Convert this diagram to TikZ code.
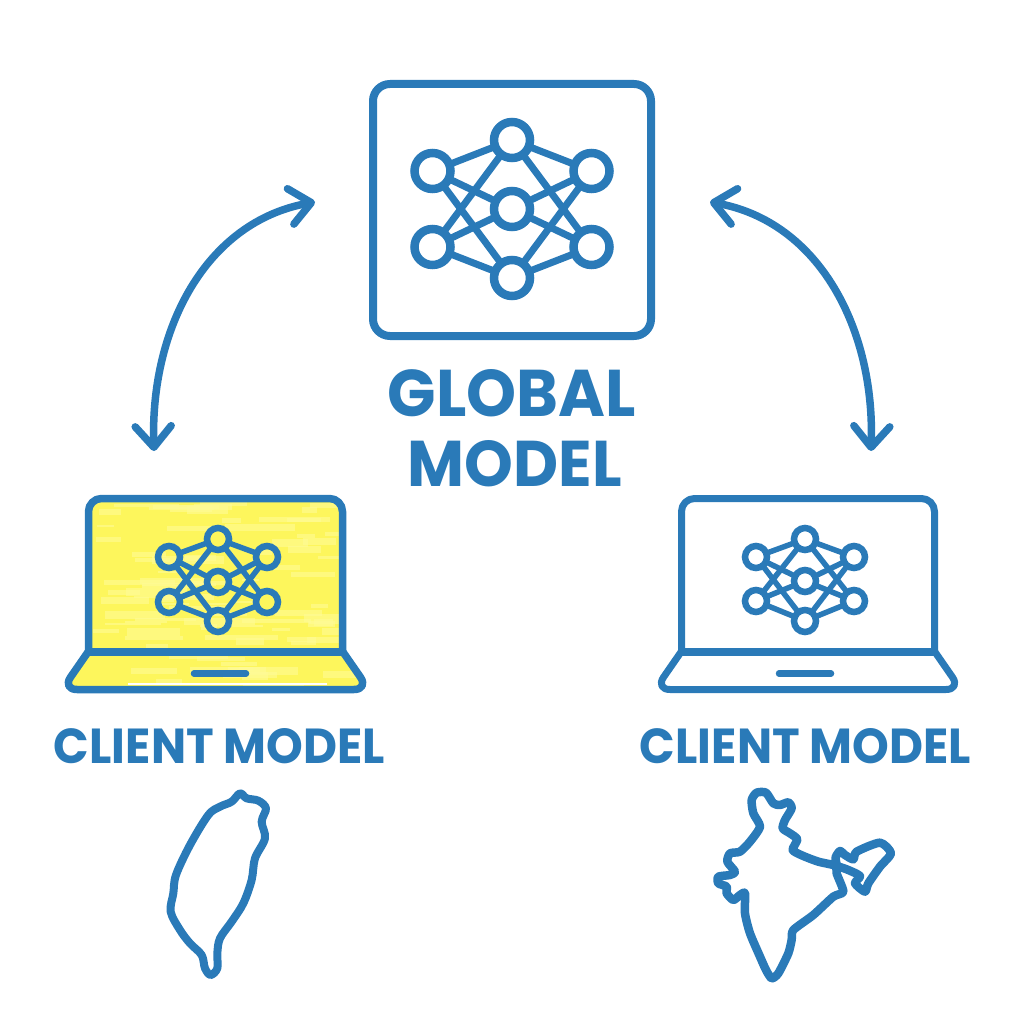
\documentclass[tikz,border=0pt]{standalone}
\usepackage{graphicx}
\usepackage{fontspec}
\usetikzlibrary{arrows.meta}
\newfontfamily\labelfont{Poppins}
\definecolor{modelblue}{HTML}{2A7AB8}
\definecolor{screenyellow}{HTML}{FDF65C}
\definecolor{streakyellow}{HTML}{FFFB96}
\tikzset{
  outline/.style={draw=modelblue,line join=round,line cap=round},
  neuron/.style={circle,draw=modelblue,inner sep=0pt,outer sep=0pt},
  synapse/.style={draw=modelblue},
  exchange/.style={draw=modelblue,line width=7.5pt,line cap=round,line join=round,
    {Straight Barb[length=21pt,width=36pt,line cap=round,round]}-{Straight Barb[length=21pt,width=36pt,line cap=round,round]}},
  caption/.style={inner sep=0pt,outer sep=0pt,text=modelblue},
}
\newcommand{\neuralnet}[9]{%
  \node[neuron,line width=\ringwidth,minimum size=#9] (#1t) at (#2,#3) {};
  \node[neuron,line width=\ringwidth,minimum size=#9] (#1m) at (#2,#4) {};
  \node[neuron,line width=\ringwidth,minimum size=#9] (#1b) at (#2,#5) {};
  \node[neuron,line width=\ringwidth,minimum size=#9] (#1lu) at (#2-#6,#7) {};
  \node[neuron,line width=\ringwidth,minimum size=#9] (#1ll) at (#2-#6,#8) {};
  \node[neuron,line width=\ringwidth,minimum size=#9] (#1ru) at (#2+#6,#7) {};
  \node[neuron,line width=\ringwidth,minimum size=#9] (#1rl) at (#2+#6,#8) {};
  \foreach \a/\b in {lu/t,ru/t,ll/b,rl/b,lu/m,ll/m,ru/m,rl/m,ll/t,rl/t,lu/b,ru/b}
    \draw[synapse,line width=\edgewidth] (#1\a) -- (#1\b);
}
\begin{document}
\begin{tikzpicture}[x=1pt,y=-1pt]
\useasboundingbox (0,0) rectangle (1030,1024);

% Global model
\node[draw=modelblue,line width=8pt,rounded corners=17pt,minimum width=278pt,minimum height=252pt,inner sep=0pt] (globalbox) at (512,210) {};
\def\ringwidth{8.5pt}\def\edgewidth{7pt}
\neuralnet{g}{512}{140}{209}{278}{79.5}{171}{247}{36pt}
\node[caption] (globaltext) at (512,393) {\resizebox{248pt}{47pt}{\labelfont\bfseries GLOBAL}};
\node[caption] (modeltext) at (515,464) {\resizebox{214pt}{46pt}{\labelfont\bfseries MODEL}};

% Left laptop: yellow fills
\begin{scope}
  \clip[rounded corners=15pt] (88,652) -- (88,498) -- (343,498) -- (343,652) -- (369,689.5) -- (62,689.5) -- cycle;
  \fill[screenyellow] (60,490) rectangle (370,695);
  \pgfmathsetseed{4242}
  \foreach \i in {1,...,90}{
    \pgfmathsetmacro{\sx}{85+rnd*240}
    \pgfmathsetmacro{\sy}{500+rnd*185}
    \pgfmathsetmacro{\sw}{15+rnd*60}
    \pgfmathsetmacro{\sh}{2+rnd*6}
    \fill[streakyellow,opacity=.6] (\sx,\sy) rectangle (\sx+\sw,\sy+\sh);
  }
\end{scope}
\fill[white] (128,682.5) rectangle (327,685);
\draw[outline,line width=7.5pt,rounded corners=13pt] (88.5,652) -- (88.5,498.5) -- (342.5,498.5) -- (342.5,652);
\draw[outline,line width=7.5pt] (88.5,652) -- (342.5,652);
\draw[outline,line width=7.5pt,rounded corners=15pt] (88,652) -- (62,689.5) -- (369,689.5) -- (343,652);
\draw[outline,line width=6.5pt] (194,673.5) -- (246,673.5);
\def\ringwidth{6.5pt}\def\edgewidth{5.5pt}
\neuralnet{a}{218}{539}{582}{621}{49}{557}{602}{22pt}

% Right laptop
\draw[outline,line width=7pt,rounded corners=13pt] (681.5,652) -- (681.5,498.5) -- (934.5,498.5) -- (934.5,652);
\draw[outline,line width=7.5pt] (681.5,652) -- (934.5,652);
\draw[outline,line width=7pt,rounded corners=15pt] (681,652) -- (655,689.5) -- (961,689.5) -- (935,652);
\draw[outline,line width=6.5pt] (779,673.5) -- (831,673.5);
\def\ringwidth{6.5pt}\def\edgewidth{5.5pt}
\neuralnet{b}{805}{539}{581}{621}{49}{557}{601}{22pt}

% Exchange arrows
\coordinate (leftend) at (154,451);
\coordinate (leftstart) at (315,202);
\coordinate (rightend) at (871,451);
\coordinate (rightstart) at (710,202);
\draw[exchange] (leftend) .. controls (150,330) and (205,222) .. (leftstart);
\draw[exchange] (rightend) .. controls (875,330) and (820,222) .. (rightstart);

% Captions
\node[caption] (clienta) at (219.5,746) {\resizebox{331pt}{35pt}{\labelfont\bfseries CLIENT MODEL}};
\node[caption] (clientb) at (805.5,746) {\resizebox{331pt}{35pt}{\labelfont\bfseries CLIENT MODEL}};

% Taiwan
\begin{scope}[shift={(140,780)},x=0.3333pt,y=-0.3333pt]
\draw[outline,line width=8pt] plot[smooth cycle,tension=.55] coordinates {
 (300,40)(320,55)(355,62)(378,85)(365,125)(375,175)(345,235)(335,300)(310,370)(275,425)(240,475)(232,520)(232,565)(212,585)(195,565)(185,525)(150,490)(120,450)(92,395)(100,340)(108,285)(150,195)(205,105)(240,80)(275,65)};
\end{scope}

% India
\begin{scope}[shift={(690,770)},x=0.3333pt,y=-0.3333pt]
\draw[outline,line width=8.5pt] plot[smooth cycle,tension=.4] coordinates {
 (185,90)(200,68)(228,68)(250,100)(270,105)(295,97)(305,115)(285,150)(278,175)(300,190)(322,208)(308,240)(340,258)(385,275)(430,285)(470,298)(510,318)(495,340)(525,365)(535,340)(570,290)(603,250)(570,218)(500,245)(490,268)(465,255)(450,243)(437,262)(440,285)(440,310)(460,365)(430,380)(370,435)(310,480)(305,510)(295,550)(265,610)(245,625)(228,600)(210,560)(180,490)(165,430)(165,370)(150,375)(130,390)(110,370)(110,350)(85,340)(85,320)(120,315)(135,305)(112,275)(120,250)(150,245)(180,215)(210,170)(190,130)};
\end{scope}
\end{tikzpicture}
\end{document}
